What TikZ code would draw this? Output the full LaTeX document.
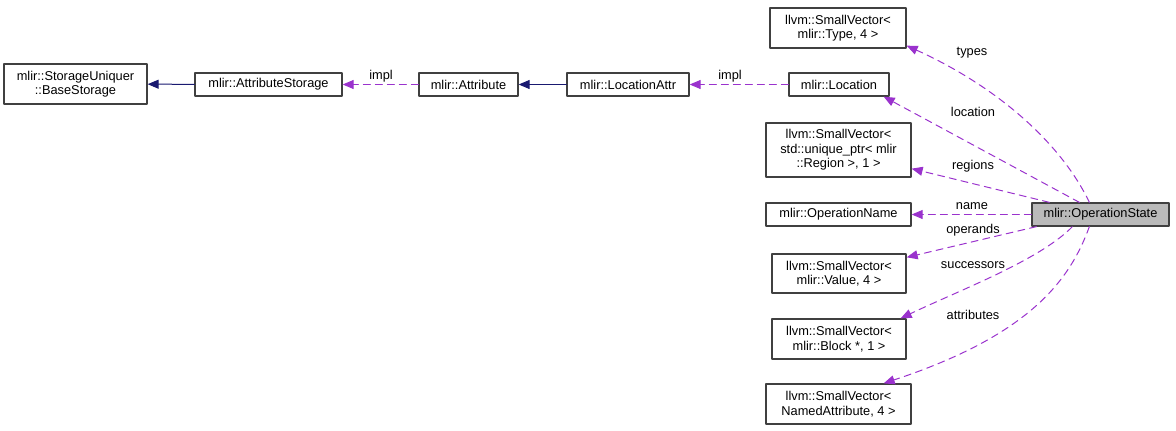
\documentclass[tikz,border=0pt]{standalone}
\usepackage{fontspec}
\setmainfont{Liberation Sans}
\usetikzlibrary{arrows.meta}

\definecolor{edgepurple}{HTML}{9A32CD}
\definecolor{edgenavy}{HTML}{191970}
\definecolor{boxline}{HTML}{404040}

\begin{document}
\begin{tikzpicture}[x=1pt, y=-1pt, line cap=round, line join=round,
  cls/.style={draw=boxline, line width=1.3pt, inner sep=0pt, align=center,
    font=\fontsize{12.8}{14.5}\selectfont},
  lbl/.style={inner sep=0pt, font=\fontsize{12.8}{14.5}\selectfont},
  inherit/.style={edgenavy, line width=1pt, -{Triangle[length=11pt,width=9pt]}},
  usage/.style={edgepurple, dashed, dash pattern=on 7pt off 5pt, line width=1pt,
    -{Triangle[length=11pt,width=9pt]}}]
  \useasboundingbox (0,0) rectangle (1176,431);

  % Klassen links
  \node[cls, minimum width=143, minimum height=40] (storage) at (75.5,84) {mlir::StorageUniquer\\::BaseStorage};
  \node[cls, minimum width=147, minimum height=23] (attrstorage) at (268.5,84.5) {mlir::AttributeStorage};
  \node[cls, minimum width=99, minimum height=23] (attribute) at (468.5,84.5) {mlir::Attribute};
  \node[cls, minimum width=122, minimum height=23] (locattr) at (628,84.5) {mlir::LocationAttr};
  \node[cls, minimum width=100, minimum height=23] (location) at (839,84.5) {mlir::Location};

  % Member-Typen
  \node[cls, minimum width=136, minimum height=40] (typevec) at (838,28) {llvm::SmallVector\textless\\mlir::Type, 4 \textgreater};
  \node[cls, minimum width=145, minimum height=54] (regionvec) at (838.5,150) {llvm::SmallVector\textless\\std::unique\_ptr\textless{} mlir\\::Region \textgreater, 1 \textgreater};
  \node[cls, minimum width=145, minimum height=23] (opname) at (838.5,214.5) {mlir::OperationName};
  \node[cls, minimum width=134, minimum height=39] (valuevec) at (839,273.5) {llvm::SmallVector\textless\\mlir::Value, 4 \textgreater};
  \node[cls, minimum width=134, minimum height=40] (blockvec) at (839,339) {llvm::SmallVector\textless\\mlir::Block *, 1 \textgreater};
  \node[cls, minimum width=145, minimum height=40] (attrvec) at (838.5,404) {llvm::SmallVector\textless\\NamedAttribute, 4 \textgreater};

  % Hauptklasse
  \node[cls, fill=black!27, minimum width=137, minimum height=23] (opstate) at (1100.5,214.5) {mlir::OperationState};

  % Vererbung
  \draw[inherit] (attrstorage) -- (storage);
  \draw[inherit] (locattr) -- (attribute);

  % Nutzung
  \draw[usage] (attribute) -- (attrstorage);
  \draw[usage] (location) -- (locattr);
  \draw[usage] ([xshift=58]opstate.north west) .. controls (1062,145) and (1000,88) .. ([yshift=3]typevec.south east);
  \draw[usage] ([xshift=48]opstate.north west) -- ([xshift=-6]location.south east);
  \draw[usage] ([xshift=18]opstate.north west) -- ([yshift=9]regionvec.south east);
  \draw[usage] (opstate) -- (opname);
  \draw[usage] ([xshift=5]opstate.south west) -- ([yshift=-4]valuevec.north east);
  \draw[usage] ([xshift=41]opstate.south west) .. controls (1040,260) and (960,290) .. ([xshift=-6]blockvec.north east);
  \draw[usage] ([xshift=58]opstate.south west) .. controls (1070,280) and (1030,335) .. ([xshift=-28]attrvec.north east);

  % Beschriftungen
  \node[lbl] (limpla) at (381,76) {impl};
  \node[lbl] (limplb) at (730,76) {impl};
  \node[lbl] (ltypes) at (972,53) {types};
  \node[lbl] (llocation) at (973,112) {location};
  \node[lbl] (lregions) at (973,166) {regions};
  \node[lbl] (lname) at (972,206) {name};
  \node[lbl] (loperands) at (973,230) {operands};
  \node[lbl] (lsuccessors) at (973,265) {successors};
  \node[lbl] (lattributes) at (973,315) {attributes};
\end{tikzpicture}
\end{document}
